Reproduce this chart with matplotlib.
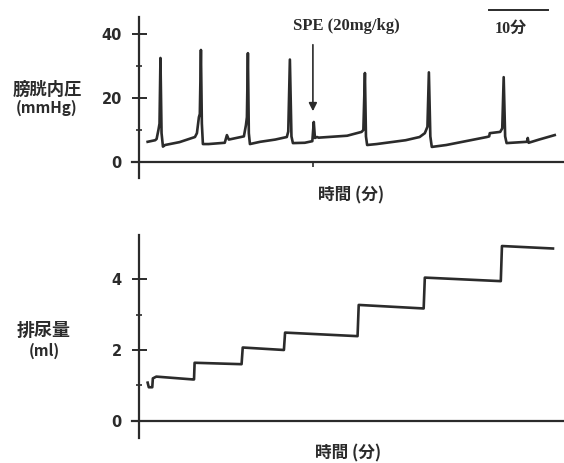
import matplotlib
matplotlib.use("Agg")
from matplotlib import pyplot as plt

# bladder pressure trace (time in min, pressure in mmHg)
p_time = [1.5, 2.8, 3.05, 3.36, 3.55, 3.71, 3.9, 4.14, 4.5, 7.0,
          9.66, 10.0, 10.34, 10.5, 10.69, 10.85, 11.03, 12.0, 14.8, 15.17, 15.5,
          18.1, 18.3, 18.45, 18.62, 18.79, 18.95, 19.14, 20.9, 23.5,
          25.5, 25.75, 26.03, 26.3, 26.55, 28.6,
          29.9, 30.15, 30.35, 30.7, 31.0, 35.9,
          38.4, 38.7, 38.97, 39.15, 39.35, 41.0, 46.0,
          48.4, 49.3, 49.75, 50.0, 50.25, 50.5, 53.0,
          60.0, 60.4, 60.5, 62.3, 62.65, 62.9, 63.15, 63.4,
          66.9, 67.05, 67.2, 69.0, 71.7]
pressure = [6.3, 6.8, 7.2, 10.0, 12.0, 32.5, 9.0, 4.8, 5.3, 6.2,
            7.8, 9.0, 14.0, 15.0, 35.0, 12.0, 5.6, 5.6, 6.0, 8.4, 7.0,
            8.0, 10.0, 11.5, 14.0, 34.0, 9.0, 5.6, 6.3, 7.0,
            7.8, 9.5, 32.0, 8.0, 5.9, 6.0,
            6.5, 12.5, 7.5, 7.8, 7.6, 8.2,
            9.4, 10.0, 27.8, 8.0, 5.3, 5.6, 6.8,
            7.8, 9.0, 11.0, 28.0, 8.0, 4.7, 5.3,
            7.8, 8.0, 9.0, 9.4, 10.5, 26.5, 8.0, 5.9,
            6.3, 7.5, 6.0, 7.0, 8.4]

# cumulative voided volume (time in min, ml)
v_time = [1.5, 1.7, 2.3, 2.4, 3.0, 9.3, 9.5, 9.6, 17.7, 17.9,
          25.0, 25.2, 37.7, 37.9, 49.1, 49.3, 62.4, 62.6, 71.4]
volume = [1.08, 0.95, 0.95, 1.2, 1.25, 1.17, 1.17, 1.64, 1.6, 2.07,
          2.0, 2.49, 2.39, 3.27, 3.17, 4.04, 3.94, 4.93, 4.86]

spe_time = 30.0
ink = "#2b2b2b"
cjk = ["Noto Sans CJK JP", "DejaVu Sans"]
serif = ["Liberation Serif", "Noto Sans CJK JP"]

fig = plt.figure(figsize=(5.64, 4.63), dpi=100)
ax1 = fig.add_axes([0.234, 0.6156, 0.766, 0.3477])
ax2 = fig.add_axes([0.234, 0.054, 0.766, 0.4384])

for ax in (ax1, ax2):
    for s in ("top", "right"):
        ax.spines[s].set_visible(False)
    ax.spines["left"].set_position(("data", 0))
    ax.spines["bottom"].set_position(("data", 0))
    for s in ("left", "bottom"):
        ax.spines[s].set_linewidth(1.6)
        ax.spines[s].set_color(ink)
    ax.set_xlim(-1.2, 73.3)
    ax.tick_params(axis="y", which="major", direction="inout", length=10.8,
                   width=1.4, pad=6.8, colors=ink, labelsize=10.5)
    ax.tick_params(axis="y", which="minor", direction="inout", length=5,
                   width=1.2, colors=ink)

# upper panel: bladder pressure
ax1.plot(p_time, pressure, color=ink, lw=1.9, solid_joinstyle="round")
ax1.set_ylim(-5, 45.3)
ax1.set_yticks([0, 20, 40])
ax1.set_yticks([10, 30], minor=True)
ax1.set_xticks([spe_time])
ax1.set_xticklabels([""])
ax1.tick_params(axis="x", direction="out", length=3.6, width=1.2, colors=ink)

ax1.annotate("", xy=(spe_time, 15), xytext=(spe_time, 37.5),
             arrowprops=dict(arrowstyle="-|>", color=ink, lw=1.2,
                             mutation_scale=12))
ax1.text(26.6, 42.5, "SPE (20mg/kg)", family=serif, fontsize=12,
         fontweight="bold", color=ink, ha="left", va="center")
ax1.plot([60.3, 70.5], [47.5, 47.5], color=ink, lw=1.4, clip_on=False)
ax1.text(64.2, 41.6, "10分", family=serif, fontsize=11.5, fontweight="bold",
         color=ink, ha="center", va="center")

# lower panel: voided volume
ax2.plot(v_time, volume, color=ink, lw=1.9)
ax2.set_ylim(-0.48, 5.24)
ax2.set_yticks([0, 2, 4])
ax2.set_yticks([1, 3], minor=True)
ax2.set_xticks([])

for ax in (ax1, ax2):
    for lab in ax.get_yticklabels():
        lab.set_fontweight("bold")

# labels in figure pixels (origin top-left)
W, H = 564, 463
def ftext(x, y, s, size=12.5):
    fig.text(x / W, 1 - y / H, s, family=cjk, fontsize=size,
             fontweight="bold", color=ink, ha="center", va="center")

ftext(47, 90, "膀胱内圧")
ftext(47, 108, "(mmHg)", 11)
ftext(351, 195, "時間 (分)", 12)
ftext(44, 330, "排尿量", 13)
ftext(44, 351, "(ml)", 11)
ftext(348, 453, "時間 (分)", 12)

fig.savefig("out.png", dpi=100)
